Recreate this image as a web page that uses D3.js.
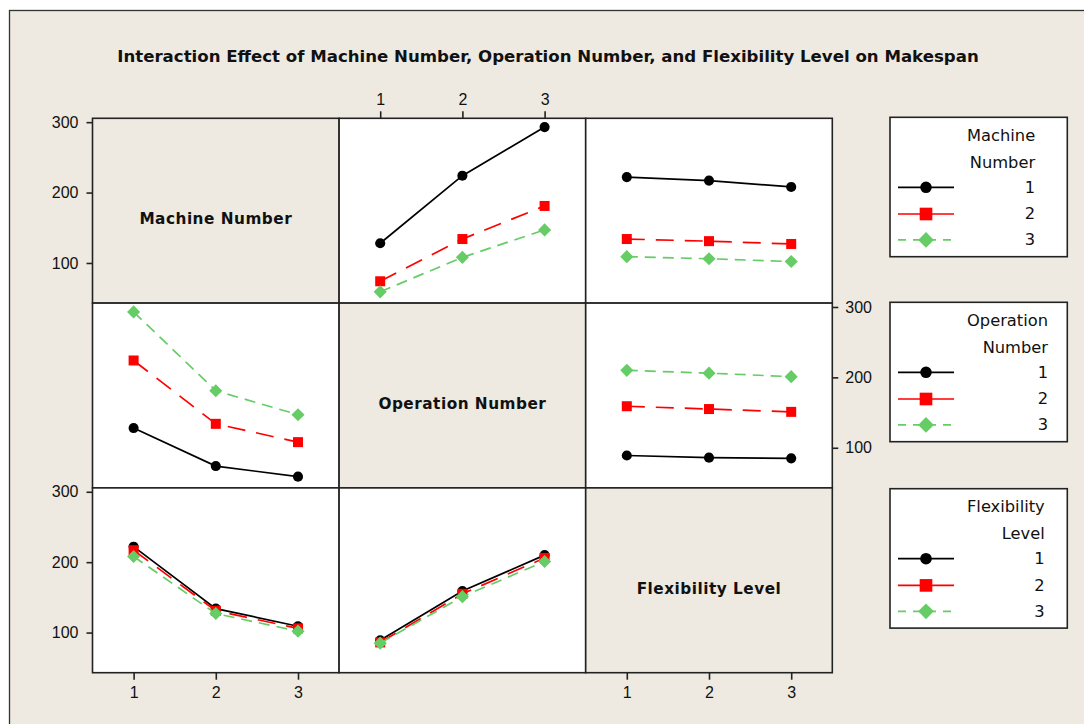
<!DOCTYPE html>
<html>
<head>
<meta charset="utf-8">
<script src="https://cdn.jsdelivr.net/npm/d3@7"></script>
<style>
  html, body { margin: 0; padding: 0; background: #ffffff; }
  svg { display: block; }
  text { font-family: "Liberation Sans", "DejaVu Sans", sans-serif; fill: #111; }
</style>
</head>
<body>
<svg id="chart" width="1084" height="724"></svg>
<script>
// Factor names and their levels
const factors = ["Machine Number", "Operation Number", "Flexibility Level"];
const legendTitles = [["Machine", "Number"], ["Operation", "Number"], ["Flexibility", "Level"]];
const levels = [1, 2, 3];
const tickValues = [100, 200, 300];

// Mean makespan for each pair of factors (rows = first factor level, cols = second factor level)
const machineByOperation = [
  [128, 224, 293],
  [74, 134, 181],
  [59, 108, 147]
];
const machineByFlexibility = [
  [222, 217, 208],
  [134, 131, 127],
  [109, 106, 102]
];
const operationByFlexibility = [
  [89, 86, 85],
  [159, 155, 151],
  [210, 206, 201]
];

const pairTables = {
  "0-1": machineByOperation,
  "0-2": machineByFlexibility,
  "1-2": operationByFlexibility
};

// Series styling, one per level of the trace factor
const seriesStyles = [
  { color: "#000000", dash: null, symbol: "circle" },
  { color: "#ff0000", dash: "18,11", symbol: "square" },
  { color: "#66cc66", dash: "11,7", symbol: "diamond" }
];

const svg = d3.select("#chart");
const bg = "#eeeae1";
const border = "#222";
const humanist = "'DejaVu Sans', 'Liberation Sans', sans-serif";

// Outer frame
svg.append("rect").attr("x", 9.5).attr("y", 10.5).attr("width", 1100).attr("height", 730)
  .attr("fill", bg).attr("stroke", "#333").attr("stroke-width", 1.3);

// Title
svg.append("text").attr("x", 548).attr("y", 56)
  .attr("text-anchor", "middle").attr("dominant-baseline", "central")
  .style("font-family", humanist).style("font-weight", "bold").style("font-size", "16.6px")
  .text("Interaction Effect of Machine Number, Operation Number, and Flexibility Level on Makespan");

// Matrix geometry
const x0 = 92.5, y0 = 118.3, cellW = 246.6, cellH = 184.8;
const x = d3.scaleLinear().domain([0.5, 3.5]).range([0, cellW]);
const y = d3.scaleLinear().domain([43, 305.5]).range([cellH, 0]);

function markerPath(kind, big) {
  if (kind === "circle") return d3.symbol(d3.symbolCircle, big ? 106 : 80)();
  if (kind === "square") return d3.symbol(d3.symbolSquare, big ? 160 : 100)();
  return d3.symbol(d3.symbolSquare, big ? 123 : 86)();
}
function markerTransform(kind, px, py) {
  return kind === "diamond" ? `translate(${px},${py}) rotate(45)` : `translate(${px},${py})`;
}

function valueAt(traceF, xF, t, xi) {
  if (traceF < xF) return pairTables[`${traceF}-${xF}`][t][xi];
  return pairTables[`${xF}-${traceF}`][xi][t];
}

for (let r = 0; r < 3; r++) {
  for (let c = 0; c < 3; c++) {
    const g = svg.append("g").attr("transform", `translate(${x0 + c * cellW},${y0 + r * cellH})`);
    g.append("rect").attr("width", cellW).attr("height", cellH)
      .attr("fill", r === c ? bg : "#ffffff");
    if (r === c) {
      g.append("text").attr("x", cellW / 2).attr("y", cellH / 2 + 8.5)
        .attr("text-anchor", "middle").attr("dominant-baseline", "central")
        .style("font-family", humanist).style("font-weight", "bold")
        .style("font-size", "15.3px").style("letter-spacing", "0.5px")
        .text(factors[r]);
    } else {
      levels.forEach((lv, t) => {
        const st = seriesStyles[t];
        const pts = levels.map((xl, xi) => ({ xv: xl, v: valueAt(r, c, t, xi) }));
        const line = d3.line().x(d => x(d.xv)).y(d => y(d.v));
        g.append("path").attr("d", line(pts)).attr("fill", "none")
          .attr("stroke", st.color).attr("stroke-width", 1.7)
          .attr("stroke-dasharray", st.dash);
        g.selectAll(null).data(pts).enter().append("path")
          .attr("d", markerPath(st.symbol, false))
          .attr("transform", d => markerTransform(st.symbol, x(d.xv), y(d.v)))
          .attr("fill", st.color);
      });
    }
    g.append("rect").attr("width", cellW).attr("height", cellH)
      .attr("fill", "none").attr("stroke", border).attr("stroke-width", 1.6);
  }
}

// Axes
function styleAxis(sel) {
  sel.select(".domain").remove();
  sel.selectAll(".tick line").attr("stroke", border).attr("stroke-width", 1.6);
  sel.selectAll(".tick text").style("font-size", "16px").attr("fill", "#111")
    .style("font-family", "'Liberation Sans', 'DejaVu Sans', sans-serif");
}
const yAxisL = d3.axisLeft(y).tickValues(tickValues).tickSize(6).tickPadding(8);
const yAxisR = d3.axisRight(y).tickValues(tickValues).tickSize(6).tickPadding(7);
const xAxisT = d3.axisTop(x).tickValues(levels).tickFormat(d3.format("d")).tickSize(7).tickPadding(6);
const xAxisB = d3.axisBottom(x).tickValues(levels).tickFormat(d3.format("d")).tickSize(7).tickPadding(7);

svg.append("g").attr("transform", `translate(${x0},${y0})`).call(yAxisL).call(styleAxis);
svg.append("g").attr("transform", `translate(${x0 + 3 * cellW},${y0 + cellH})`).call(yAxisR).call(styleAxis);
svg.append("g").attr("transform", `translate(${x0},${y0 + 2 * cellH})`).call(yAxisL).call(styleAxis);
svg.append("g").attr("transform", `translate(${x0 + cellW},${y0})`).call(xAxisT).call(styleAxis);
svg.append("g").attr("transform", `translate(${x0},${y0 + 3 * cellH})`).call(xAxisB).call(styleAxis);
svg.append("g").attr("transform", `translate(${x0 + 2 * cellW},${y0 + 3 * cellH})`).call(xAxisB).call(styleAxis);

// Legends, one per factor
const legendTops = [117.3, 302.3, 488.7];
const legX = 890, legW = 177.3, legH = 139.4;
legendTops.forEach((top, f) => {
  const lg = svg.append("g").attr("transform", `translate(${legX},${top})`);
  lg.append("rect").attr("width", legW).attr("height", legH)
    .attr("fill", "#ffffff").attr("stroke", border).attr("stroke-width", 1.6);
  const titles = legendTitles[f].map((s, i) => lg.append("text")
    .attr("y", [18, 45][i]).attr("dominant-baseline", "central")
    .attr("text-anchor", "end").style("font-family", humanist).style("font-size", "16.3px").text(s));
  const widest = d3.max(titles, t => t.node().getComputedTextLength());
  const right = 77 + widest;
  titles.forEach(t => t.attr("x", right));
  levels.forEach((lv, t) => {
    const st = seriesStyles[t];
    const ry = [70, 96.7, 122.6][t];
    lg.append("line").attr("x1", 8).attr("x2", 64).attr("y1", ry).attr("y2", ry)
      .attr("stroke", st.color).attr("stroke-width", 1.7)
      .attr("stroke-dasharray", st.dash ? (t === 2 ? "8,7" : "22,0") : null);
    lg.append("path").attr("d", markerPath(st.symbol, true))
      .attr("transform", markerTransform(st.symbol, 36, ry)).attr("fill", st.color);
    lg.append("text").attr("x", right).attr("y", ry).attr("dominant-baseline", "central")
      .attr("text-anchor", "end").style("font-family", humanist).style("font-size", "16.3px").text(lv);
  });
});
</script>
</body>
</html>
